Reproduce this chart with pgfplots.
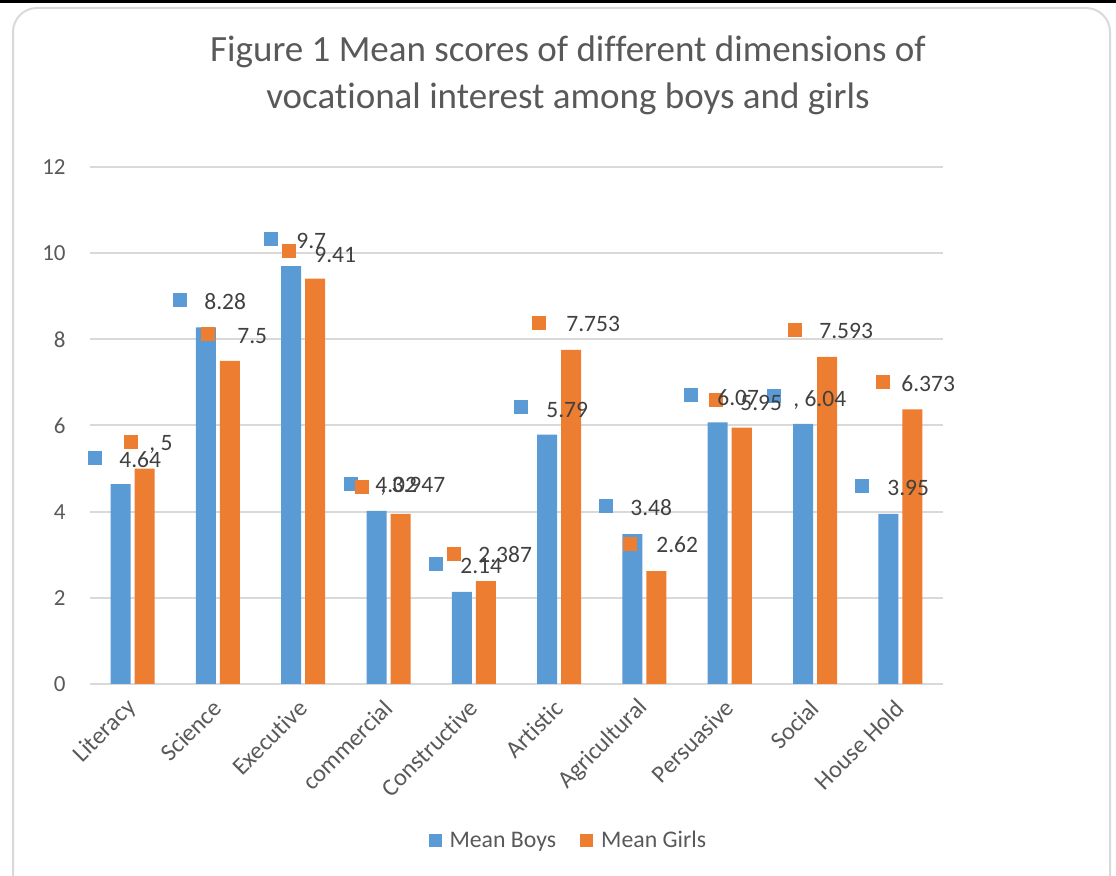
\documentclass[border=0pt]{standalone}
\usepackage{fontspec}
\setmainfont{Carlito}[Ligatures=NoCommon]
\usepackage{pgfplots}
\pgfplotsset{compat=1.18}
\definecolor{cboys}{HTML}{5B9BD5}
\definecolor{cgirls}{HTML}{ED7D31}
\definecolor{ctxt}{HTML}{595959}
\definecolor{clab}{HTML}{404040}
\definecolor{cgrid}{HTML}{D9D9D9}
\begin{document}
\begin{tikzpicture}
\useasboundingbox (0,0) rectangle (558pt,438pt);
\draw[cgrid, line width=1pt, rounded corners=12pt] (6.5pt,-20pt) rectangle (555pt,434pt);
\draw[black, line width=1.5pt] (0,437.25pt) -- (558pt,437.25pt);
\node[align=center, text=ctxt, font=\fontsize{18.5}{23.5}\selectfont] at (284pt,400.25pt)
  {Figure 1 Mean scores of different dimensions of\\vocational interest among boys and girls};
\begin{axis}[
  at={(45pt,96pt)}, anchor=south west, scale only axis,
  width=426.5pt, height=258.5pt,
  xmin=-0.5, xmax=9.5, ymin=0, ymax=12,
  ytick={0,2,4,6,8,10,12}, xtick={0,1,2,3,4,5,6,7,8,9},
  xticklabels={Literacy,Science,Executive,commercial,Constructive,Artistic,Agricultural,Persuasive,Social,House Hold},
  ymajorgrids, major grid style={cgrid, line width=1pt},
  axis line style={draw=none}, tick style={draw=none},
  clip=false,
  /pgf/number format/assume math mode=true,
  ticklabel style={font=\fontsize{11.5}{13}\selectfont, text=ctxt},
  yticklabel style={anchor=east, inner sep=0pt}, yticklabel shift=12pt,
  xticklabel style={rotate=45, anchor=east, inner sep=0pt, font=\fontsize{12.2}{14}\selectfont}, xticklabel shift=10pt,
  legend style={draw=none, fill=none, legend columns=-1, at={(0.562,-0.3037)}, anchor=center,
    font=\fontsize{11.9}{13}\selectfont, text=ctxt,
    /tikz/every odd column/.append style={column sep=2pt},
    /tikz/every even column/.append style={column sep=10pt}},
  legend image code/.code={\fill[#1] (0pt,-3.25pt) rectangle (6.5pt,3.25pt);},
]
\addplot[ybar, bar width=10pt, bar shift=-6pt, fill=cboys, draw=none]
  coordinates {(0,4.64) (1,8.28) (2,9.7) (3,4.02) (4,2.14) (5,5.79) (6,3.48) (7,6.07) (8,6.04) (9,3.95)};
\addplot[ybar, bar width=10pt, bar shift=6pt, fill=cgirls, draw=none]
  coordinates {(0,5) (1,7.5) (2,9.41) (3,3.947) (4,2.387) (5,7.753) (6,2.62) (7,5.95) (8,7.593) (9,6.373)};
\legend{Mean Boys, Mean Girls}
% label key squares (positions in pixels of the reference)
\addplot[only marks, mark=square*, mark size=3.25pt, cboys, mark options={draw=none, fill=cboys}]
  table[x expr={(\thisrow{px}-132.65)/85.3}, y expr={(684-\thisrow{py})/43.083}] {
px py
94.5 457.5
180 300
271 238.5
350.5 484
436 564
521 407
605.5 506
690.5 395
773.5 396
862 486
};
\addplot[only marks, mark=square*, mark size=3.25pt, cgirls, mark options={draw=none, fill=cgirls}]
  table[x expr={(\thisrow{px}-132.65)/85.3}, y expr={(684-\thisrow{py})/43.083}] {
px py
131 441.5
208 334
289 250.5
362 486.5
454 553.5
539 322.5
630 543.5
716 400
795 329.5
883 381.5
};
% label texts
\addplot[draw=none, mark=none, nodes near coords, point meta=explicit symbolic,
  every node near coord/.append style={anchor=west, inner sep=0pt, text=clab, font=\fontsize{11.75}{14}\selectfont}]
  table[x expr={(\thisrow{px}-132.65)/85.3}, y expr={(684-\thisrow{py})/43.083}, meta=lab] {
px py lab
119 460 4.64
204 302 8.28
296 240.5 9.7
375 484.5 4.02
460 566 2.14
546 409.5 5.79
630 508 3.48
717 398 6.07
793 400 {, 6.04}
887 487.5 3.95
};
\addplot[draw=none, mark=none, nodes near coords, point meta=explicit symbolic,
  every node near coord/.append style={anchor=west, inner sep=0pt, text=clab, font=\fontsize{11.75}{14}\selectfont}]
  table[x expr={(\thisrow{px}-132.65)/85.3}, y expr={(684-\thisrow{py})/43.083}, meta=lab] {
px py lab
149 444 {, 5}
237 336.5 7.5
314 254.5 9.41
380 486 {, 3.947}
478 554.5 2.387
566 324 7.753
656 545 2.62
740 402.5 5.95
819 330.5 7.593
901 383.5 6.373
};
\end{axis}
\end{tikzpicture}
\end{document}
